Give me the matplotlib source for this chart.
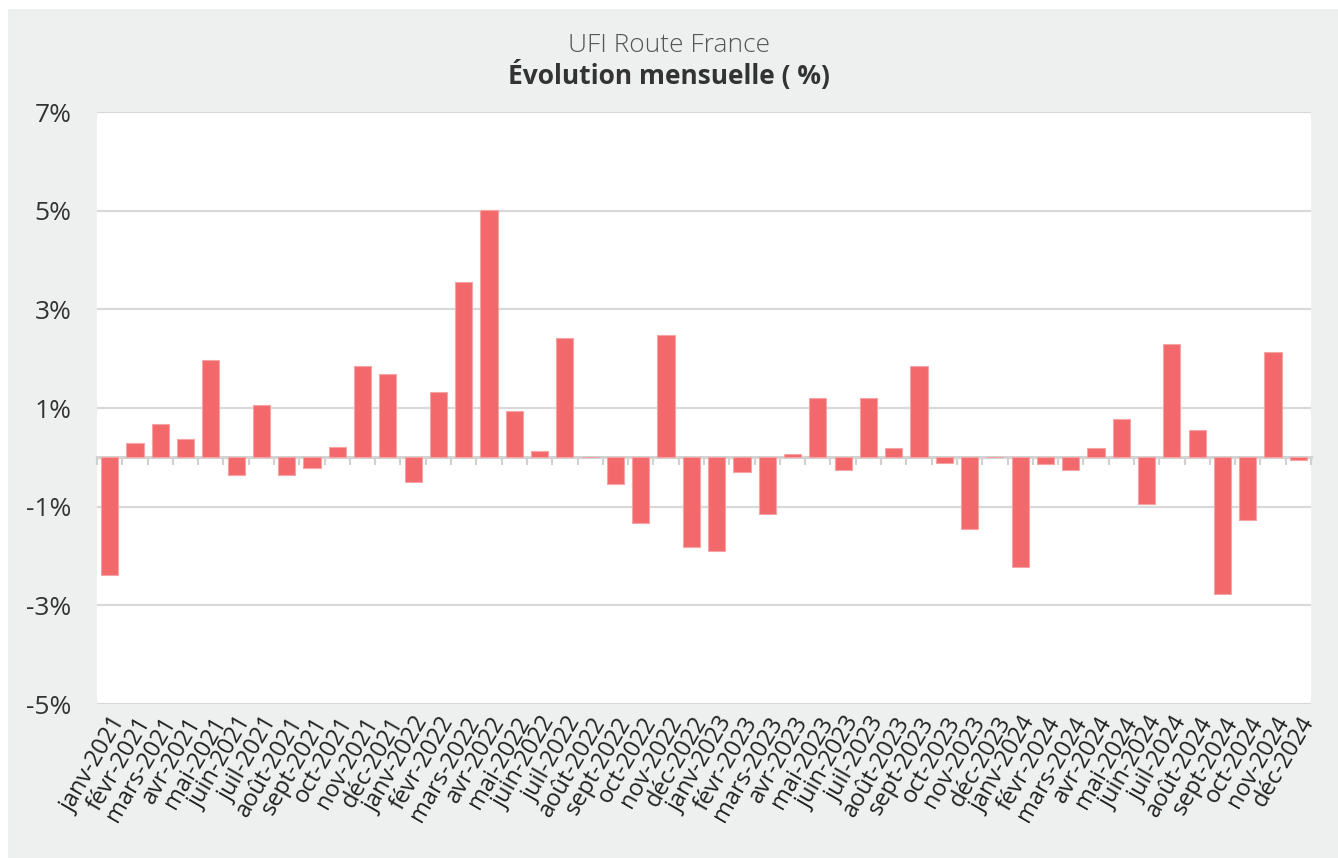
import matplotlib
matplotlib.use("Agg")
import matplotlib.pyplot as plt
from matplotlib.patches import Rectangle
import numpy as np

plt.rcParams['font.family'] = ['Open Sans', 'DejaVu Sans']

months = ["janv", "févr", "mars", "avr", "mai", "juin", "juil", "août",
          "sept", "oct", "nov", "déc"]
years = [2021, 2022, 2023, 2024]
labels = [f"{m}-{y}" for y in years for m in months]

values = [
    -2.38, 0.29, 0.67, 0.37, 1.97, -0.36, 1.07, -0.36, -0.22, 0.21, 1.86, 1.69,
    -0.49, 1.32, 3.56, 5.02, 0.94, 0.13, 2.42, 0.00, -0.55, -1.33, 2.47, -1.81,
    -1.90, -0.30, -1.14, 0.07, 1.21, -0.25, 1.21, 0.18, 1.86, -0.12, -1.46, 0.00,
    -2.22, -0.14, -0.25, 0.18, 0.77, -0.95, 2.29, 0.56, -2.78, -1.28, 2.13, -0.06,
]
yticks = [-5, -3, -1, 1, 3, 5, 7]
ytick_labels = ["-5%", "-3%", "-1%", "1%", "3%", "5%", "7%"]

W, H = 1338, 858
fig = plt.figure(figsize=(W / 100, H / 100), dpi=100, facecolor="white")
fig.patches.append(Rectangle((8 / W, 0), 1 - 8 / W, 1 - 9 / H,
                             transform=fig.transFigure, facecolor="#EEF0EF",
                             edgecolor="none", zorder=-10))

ax = fig.add_axes([97 / W, 1 - 704 / H, (1311 - 97) / W, (704 - 112) / H])
ax.set_facecolor("white")

x = np.arange(len(values))
ax.bar(x, values, width=0.68, color="#F2686B", edgecolor="#F6A3A4",
       linewidth=0.8, zorder=3)

ax.set_xlim(-0.5, len(values) - 0.5)
ax.set_ylim(-5, 7)
ax.set_yticks(yticks)
ax.set_yticklabels(ytick_labels, fontsize=19, color="#333333")
ax.tick_params(axis="y", length=0, pad=18.5)
ax.grid(axis="y", color="#D9D9D9", linewidth=1.6, zorder=0)
ax.set_axisbelow(True)
for s in ax.spines.values():
    s.set_visible(False)

ax.set_xticks(x)
ax.set_xticklabels(labels, rotation=60, ha="right", rotation_mode="anchor",
                   fontsize=17, color="#222222")
ax.tick_params(axis="x", length=0, pad=6)

# zero line with ticks at category boundaries
sec = ax.secondary_xaxis(5 / 12)
sec.set_xticks(np.arange(-0.5, len(values), 1.0))
sec.set_xticklabels([])
sec.tick_params(axis="x", length=6, width=1.5, color="#D0D0D0")
sec.spines["bottom"].set_color("#D3D3D3")
sec.spines["bottom"].set_linewidth(2.2)
sec.spines["bottom"].set_zorder(4)

fig.text(0.5, 1 - 45 / H, "UFI Route France", ha="center", va="center",
         fontsize=19, fontweight="light", color="#555555")
fig.text(0.5, 1 - 75 / H, "Évolution mensuelle ( %)", ha="center",
         va="center", fontsize=19, fontweight="bold", color="#333333")

fig.savefig("out.png", dpi=100, facecolor=fig.get_facecolor())
